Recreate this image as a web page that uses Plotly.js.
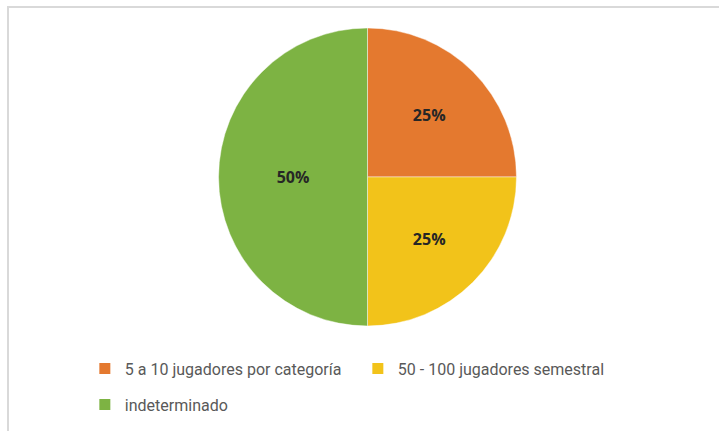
<!DOCTYPE html>
<html>
<head>
<meta charset="utf-8">
<script src="https://cdn.plot.ly/plotly-3.0.1.min.js"></script>
<style>
  html, body { margin:0; padding:0; background:#ffffff; }
  #wrap { position:relative; width:719px; height:431px; overflow:hidden; }
  #chart { position:absolute; left:0; top:0; width:719px; height:431px; }
  #frame { position:absolute; left:7px; top:6px; width:800px; height:500px;
           border-left:2px solid #d9d9d9; border-top:2px solid #d9d9d9; pointer-events:none; }
</style>
</head>
<body>
<div id="wrap"><div id="chart"></div><div id="frame"></div></div>
<script>
const categories = ["5 a 10 jugadores por categoría", "50 - 100 jugadores semestral", "indeterminado"];
const values = [25, 25, 50];
const colors = ["#E4792F", "#F2C31A", "#7DB343"];
const legendRows = ["legend", "legend", "legend2"];

const pie = {
  type: "pie",
  labels: categories,
  values: values,
  sort: false,
  direction: "clockwise",
  rotation: 0,
  marker: { colors: colors, line: { color: "rgba(255,255,255,0.45)", width: 1 } },
  textinfo: "percent",
  textposition: "inside",
  insidetextorientation: "horizontal",
  textfont: { family: "Open Sans, sans-serif", size: 16, color: "#262626", weight: "bold" },
  hoverinfo: "label+percent",
  showlegend: false,
  domain: { x: [0.2646, 0.7621], y: [0.0156, 0.944] }
};

const legendTraces = categories.map((c, i) => ({
  type: "scatter",
  mode: "markers",
  x: [null], y: [null],
  name: c,
  legend: legendRows[i],
  marker: { symbol: "square", size: 11, color: colors[i] },
  showlegend: true,
  hoverinfo: "skip"
}));

const legendFont = { family: "Roboto, sans-serif", size: 16, color: "#595959" };

const layout = {
  width: 719, height: 431,
  margin: { l: 60, r: 60, t: 10, b: 100 },
  paper_bgcolor: "#ffffff",
  plot_bgcolor: "rgba(0,0,0,0)",
  xaxis: { visible: false },
  yaxis: { visible: false },
  showlegend: true,
  legend: {
    orientation: "h", xref: "container", yref: "container",
    x: 0.118, xanchor: "left", y: 0.1445, yanchor: "middle",
    font: legendFont, bgcolor: "rgba(0,0,0,0)", traceorder: "normal",
    entrywidth: 228
  },
  legend2: {
    orientation: "h", xref: "container", yref: "container",
    x: 0.118, xanchor: "left", y: 0.0611, yanchor: "middle",
    font: legendFont, bgcolor: "rgba(0,0,0,0)"
  }
};

Plotly.newPlot("chart", [pie].concat(legendTraces), layout, { displayModeBar: false, staticPlot: true });
</script>
</body>
</html>
